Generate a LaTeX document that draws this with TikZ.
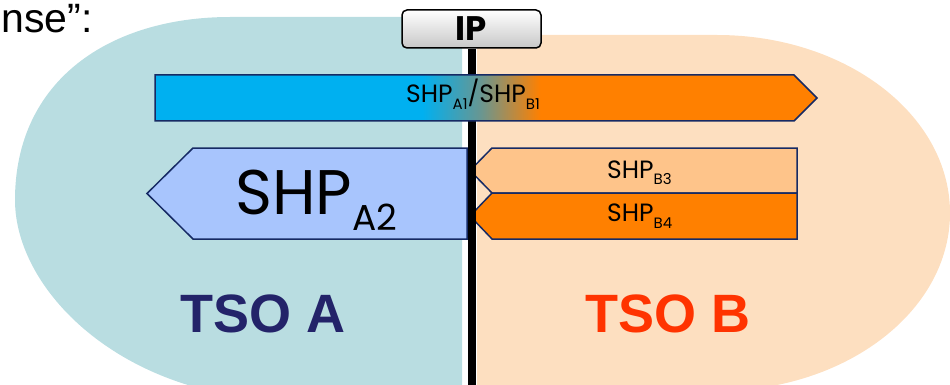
\documentclass[tikz,border=0pt]{standalone}
\usepackage{fontspec}
\setmainfont{Liberation Sans}
\newfontfamily\gfont{Poppins}
\definecolor{tealbg}{RGB}{185,221,225}
\definecolor{orangebg}{RGB}{253,223,192}
\definecolor{cyanA}{RGB}{0,176,240}
\definecolor{orangeA}{RGB}{255,128,0}
\definecolor{midC}{RGB}{105,150,145}
\definecolor{lightorange}{RGB}{254,196,138}
\definecolor{peri}{RGB}{168,197,253}
\definecolor{navyline}{RGB}{22,42,100}
\definecolor{tsoa}{RGB}{35,35,105}
\definecolor{tsob}{RGB}{255,51,0}
\pgfdeclarehorizontalshading{barshade}{100bp}{color(0bp)=(cyanA); color(45.2bp)=(cyanA); color(49.6bp)=(midC); color(54.1bp)=(orangeA); color(100bp)=(orangeA)}
\newcommand{\smallshp}[1]{{\fontsize{25}{25}\selectfont SHP}\raisebox{-6.5pt}{\fontsize{15}{15}\selectfont #1}}
\tikzset{
  boxline/.style={draw=navyline, line width=1.5pt, line join=miter},
  shptext/.style={font=\gfont, inner sep=0pt, anchor=base west},
  tsotext/.style={font=\fontsize{54}{54}\selectfont\bfseries, inner sep=0pt, anchor=base west}
}
\begin{document}
\begin{tikzpicture}[x=1pt,y=-1pt]
\useasboundingbox (0,0) rectangle (950,385);
\clip (0,0) rectangle (950,385);
% backgrounds
\fill[tealbg] (462,17) -- (230,17) .. controls (110,17) and (15,80) .. (15,200)
  .. controls (15,290) and (120,395) .. (280,400) -- (462,400) -- cycle;
\fill[orangebg] (477,35) -- (717,35) .. controls (845.7,35) and (950,114.7) .. (950,213)
  .. controls (950,311.3) and (845.7,391) .. (717,391) -- (477,391) -- cycle;
% heading fragment
\node[font=\fontsize{41}{41}\selectfont, inner sep=0pt, anchor=base east] (head) at (93,33) {nse”:};
% lower boxes
\draw[boxline, fill=lightorange] (492,148) -- (797,148) -- (797,193) -- (492,193) -- (470,170.5) -- cycle;
\draw[boxline, fill=orangeA] (492,193) -- (797,193) -- (797,239) -- (492,239) -- (470,216) -- cycle;
\draw[boxline, fill=peri] (193,148) -- (467,148) -- (467,239) -- (193,239) -- (147,193.5) -- cycle;
\node[shptext] (b3) at (607,178.3) {\smallshp{B3}};
\node[shptext] (b4) at (607,221.7) {\smallshp{B4}};
\node[shptext] (a2) at (235,214) {{\fontsize{63}{63}\selectfont SHP}\raisebox{-16pt}{\fontsize{36}{36}\selectfont A2}};
% IP box and line
\node[draw=black, line width=1.5pt, rounded corners=5pt, top color=white, bottom color=black!22,
  minimum width=139pt, minimum height=38pt, inner sep=0pt, font=\gfont\bfseries\fontsize{34}{34}\selectfont]
  (ip) at (471.5,29) {IP};
\coordinate (lineend) at (472,392);
\draw[line width=8pt] (ip.south) -- (ip.south |- lineend);
% top bar
\shadedraw[shading=barshade, boxline] (155,75) -- (794,75) -- (817,98) -- (794,121) -- (155,121) -- cycle;
\node[shptext] (a1b1) at (406,103) {\smallshp{A1}{\fontsize{25}{25}\selectfont /}\smallshp{B1}};
% TSO labels
\node[tsotext, text=tsoa] (tsoA) at (180,332) {TSO A};
\node[tsotext, text=tsob] (tsoB) at (585,332) {TSO B};
\end{tikzpicture}
\end{document}
